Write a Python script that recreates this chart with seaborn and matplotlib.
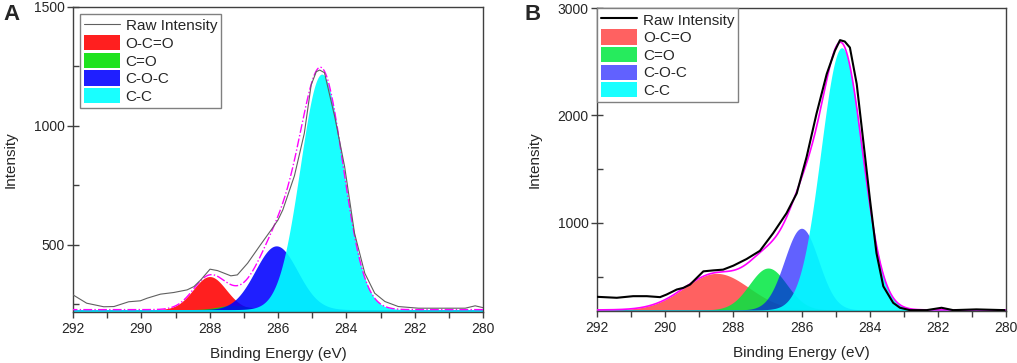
import numpy as np
import pandas as pd
import matplotlib
matplotlib.use("Agg")
import matplotlib.pyplot as plt
import seaborn as sns
from matplotlib.lines import Line2D
from matplotlib.patches import Patch
from matplotlib.ticker import MultipleLocator

# ---------------- data ----------------
# Panel A raw spectrum (binding energy eV, intensity)
a_energy = [292.0, 291.6, 291.1, 290.8, 290.37, 290.03, 289.83, 289.44, 289.05, 288.66,
            288.46, 288.26, 287.99, 287.77, 287.38, 287.19, 286.89, 286.5, 286.2, 286.0,
            285.86, 285.52, 285.23, 285.03, 284.88, 284.78, 284.64, 284.34, 284.05, 283.76,
            283.46, 283.17, 282.87, 282.48, 281.89, 281.0, 280.52, 280.23, 279.93]
a_intensity = [290, 255, 240, 241, 261, 265, 276, 293, 300, 311,
               325, 353, 398, 392, 370, 374, 423, 503, 563, 605,
               647, 790, 969, 1172, 1228, 1235, 1224, 1039, 829, 549,
               381, 297, 262, 241, 234, 234, 234, 244, 234]

# Panel B raw spectrum
b_energy = [292.0, 291.42, 290.94, 290.54, 290.15, 289.96, 289.66, 289.47, 289.27, 288.88,
            288.59, 288.30, 288.0, 287.61, 287.22, 286.83, 286.44, 286.14, 285.85, 285.56,
            285.26, 285.02, 284.87, 284.73, 284.58, 284.38, 284.19, 283.99, 283.80, 283.60,
            283.31, 283.11, 282.82, 282.33, 281.89, 281.55, 280.87, 280.04]
b_intensity = [312, 303, 318, 318, 309, 333, 380, 395, 426, 549,
               558, 565, 602, 664, 740, 905, 1090, 1275, 1614, 2016,
               2386, 2602, 2701, 2688, 2632, 2293, 1769, 1213, 719, 410,
               256, 210, 188, 188, 210, 188, 195, 188]

# Fitted components (peak centre eV, height above background, gaussian width eV)
components = ["O-C=O", "C=O", "C-O-C", "C-C"]
a_centers = [288.0, 287.3, 286.05, 284.72]
a_heights = [139, 18, 268, 990]
a_widths = [0.48, 0.45, 0.62, 0.63]
a_background = 228

b_centers = [288.49, 286.98, 286.0, 284.82]
b_heights = [340, 390, 760, 2440]
b_widths = [0.95, 0.55, 0.5, 0.61]
b_background = 190

# ---------------- style ----------------
sns.set_theme(style="ticks")
plt.rcParams['font.family'] = ['Liberation Sans', 'DejaVu Sans']

fig = plt.figure(figsize=(10.17, 3.63), dpi=100)
axA = fig.add_axes([73/1017, (363-312)/363, 410/1017, 305/363])
axB = fig.add_axes([597/1017, (363-311)/363, 409/1017, 303/363])

grid = np.linspace(280, 292, 1500)


def draw_panel(ax, energy, intensity, centers, heights, widths, bg, ylim,
               colors, alphas, raw_color, raw_lw, env_style, env_lw,
               ymajor, yminor, legend_pad):
    total = np.full_like(grid, float(bg))
    for c, h, w, col, al in zip(centers, heights, widths, colors, alphas):
        g = h * np.exp(-(grid - c) ** 2 / (2 * w ** 2))
        total += g
        ax.fill_between(grid, ylim[0], bg + g, color=col, alpha=al, lw=0)
    ax.plot(grid, total, color='#FF00FF', lw=env_lw, ls=env_style, zorder=3)
    df = pd.DataFrame({"energy": energy, "intensity": intensity})
    sns.lineplot(data=df, x="energy", y="intensity", ax=ax, color=raw_color,
                 lw=raw_lw, sort=False, estimator=None, zorder=4)
    ax.set_xlim(292, 280)
    ax.set_ylim(*ylim)
    ax.xaxis.set_major_locator(MultipleLocator(2))
    ax.xaxis.set_minor_locator(MultipleLocator(1))
    ax.yaxis.set_major_locator(MultipleLocator(ymajor))
    ax.yaxis.set_minor_locator(MultipleLocator(yminor))
    ax.tick_params(axis='y', which='major', direction='inout', length=8, width=1,
                   labelsize=10, pad=2, color='#404040')
    ax.tick_params(axis='y', which='minor', direction='in', length=4, width=1,
                   color='#404040', left=True)
    ax.tick_params(axis='x', which='both', direction='out', length=4, width=1,
                   labelsize=10, pad=3, color='#404040', bottom=True)
    for s in ax.spines.values():
        s.set_visible(True)
        s.set_color('#404040')
        s.set_linewidth(1)
    ax.set_xlabel("Binding Energy (eV)", fontsize=11)
    ax.set_ylabel("Intensity", fontsize=11)
    ax.xaxis.set_label_coords(0.5, -0.115)
    ax.yaxis.set_label_coords(-0.135, 0.5)
    handles = [Line2D([0], [0], color=raw_color, lw=raw_lw)]
    for col, al in zip(colors, alphas):
        handles.append(Patch(facecolor=col, alpha=al, edgecolor='none'))
    leg = ax.legend(handles, ["Raw Intensity"] + components, loc='upper left',
                    fontsize=11, frameon=True, fancybox=False, framealpha=1,
                    edgecolor='#808080', borderpad=0.25, labelspacing=0.12,
                    handlelength=2.4, handleheight=1.15, handletextpad=0.35,
                    borderaxespad=legend_pad)
    leg.get_frame().set_linewidth(1)


draw_panel(axA, a_energy, a_intensity, a_centers, a_heights, a_widths, a_background,
           (218, 1500),
           ['#FF0000', '#00E000', '#0000FF', '#00FFFF'], [0.88, 0.88, 0.88, 0.9],
           '#606060', 0.8, '-.', 1.0, 500, 250, 0.45)
draw_panel(axB, b_energy, b_intensity, b_centers, b_heights, b_widths, b_background,
           (180, 3000),
           ['#FF0000', '#00E840', '#0000FF', '#00FFFF'], [0.62, 0.85, 0.62, 0.9],
           '#000000', 1.5, '-', 1.2, 1000, 500, 0.0)

fig.text(3/1017, 1 - 15/363, "A", fontsize=16, fontweight='bold', va='center', ha='left')
fig.text(524/1017, 1 - 15/363, "B", fontsize=16, fontweight='bold', va='center', ha='left')

fig.savefig("out.png", dpi=100)
